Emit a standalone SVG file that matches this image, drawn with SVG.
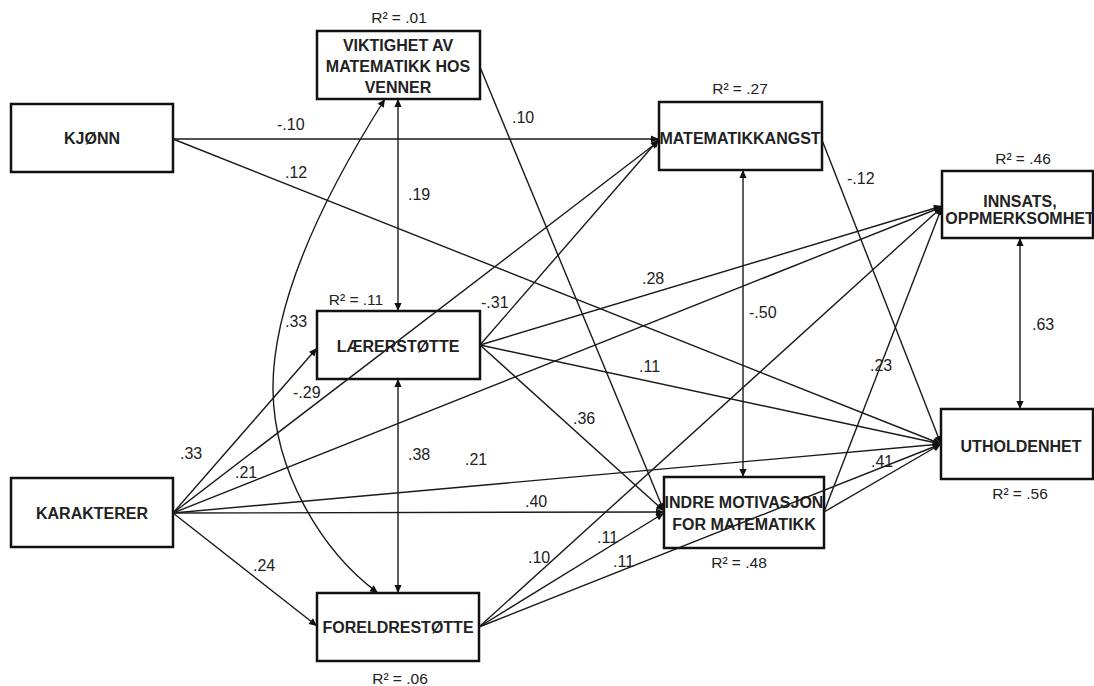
<svg xmlns="http://www.w3.org/2000/svg" width="1094" height="686" viewBox="0 0 1094 686">
  <style>
    .box { fill: #fff; stroke: #111; stroke-width: 2.5; }
    .name { font-family: "Liberation Sans", Arial, sans-serif; font-size: 16px; font-weight: bold; fill: #222; text-anchor: middle; }
    .coef { font-family: "Liberation Sans", Arial, sans-serif; font-size: 16px; fill: #222; }
    .r2 { font-family: "Liberation Sans", Arial, sans-serif; font-size: 15.5px; fill: #222; text-anchor: middle; }
    .edge { fill: none; stroke: #1a1a1a; stroke-width: 1.4; marker-end: url(#ah); }
    .both { marker-start: url(#ah); }
  </style>
  <defs>
    <marker id="ah" viewBox="0 0 10 10" refX="10" refY="5" markerWidth="9" markerHeight="8" markerUnits="userSpaceOnUse" orient="auto-start-reverse">
      <path d="M0,0.5 L10,5 L0,9.5 z" fill="#111"/>
    </marker>
  </defs>
  <rect width="1094" height="686" fill="#fff"/>

  <g id="node-kjonn">
    <rect class="box" x="11" y="104" width="162" height="68"/>
    <text class="name" x="92" y="144">KJØNN</text>
  </g>
  <g id="node-karakterer">
    <rect class="box" x="11" y="478" width="162" height="69"/>
    <text class="name" x="92" y="519">KARAKTERER</text>
  </g>
  <g id="node-viktighet">
    <rect class="box" x="317" y="31" width="163" height="68"/>
    <text class="name" x="398" y="51">VIKTIGHET AV</text>
    <text class="name" x="398" y="72">MATEMATIKK HOS</text>
    <text class="name" x="398" y="93">VENNER</text>
    <text class="r2" x="399" y="23">R² = .01</text>
  </g>
  <g id="node-laererstotte">
    <rect class="box" x="317" y="311" width="163" height="68"/>
    <text class="name" x="398" y="352">LÆRERSTØTTE</text>
    <text class="r2" x="356" y="305">R² = .11</text>
  </g>
  <g id="node-foreldrestotte">
    <rect class="box" x="317" y="593" width="162" height="68"/>
    <text class="name" x="398" y="633">FORELDRESTØTTE</text>
    <text class="r2" x="400" y="684">R² = .06</text>
  </g>
  <g id="node-matematikkangst">
    <rect class="box" x="659" y="102" width="163" height="68"/>
    <text class="name" x="740" y="144">MATEMATIKKANGST</text>
    <text class="r2" x="740" y="94">R² = .27</text>
  </g>
  <g id="node-indre-motivasjon">
    <rect class="box" x="664" y="477" width="160" height="71"/>
    <text class="name" x="744" y="508">INDRE MOTIVASJON</text>
    <text class="name" x="744" y="530">FOR MATEMATIKK</text>
    <text class="r2" x="739" y="568">R² = .48</text>
  </g>
  <g id="node-innsats">
    <rect class="box" x="942" y="171" width="151" height="67"/>
    <text class="name" x="1020" y="207">INNSATS,</text>
    <text class="name" x="1020" y="224">OPPMERKSOMHET</text>
    <text class="r2" x="1023" y="164">R² = .46</text>
  </g>
  <g id="node-utholdenhet">
    <rect class="box" x="941" y="409" width="152" height="70"/>
    <text class="name" x="1021" y="452">UTHOLDENHET</text>
    <text class="r2" x="1020" y="499">R² = .56</text>
  </g>

  <g id="connectors">
    <!-- from KJØNN -->
    <line class="edge" x1="173" y1="139" x2="659" y2="139"/>
    <line class="edge" x1="173" y1="139" x2="941" y2="444"/>
    <!-- from VIKTIGHET -->
    <line class="edge" x1="480" y1="67" x2="664" y2="511"/>
    <!-- correlations -->
    <line class="edge both" x1="398" y1="99" x2="398" y2="311"/>
    <line class="edge both" x1="398" y1="379" x2="398" y2="593"/>
    <line class="edge both" x1="743" y1="170" x2="743" y2="477"/>
    <line class="edge both" x1="1020" y1="238" x2="1020" y2="409"/>
    <path class="edge both" d="M385,99 C340,170 272,290 273,390 C274,470 320,550 378,593"/>
    <!-- from MATEMATIKKANGST -->
    <line class="edge" x1="822" y1="140" x2="941" y2="444"/>
    <!-- from LÆRERSTØTTE -->
    <line class="edge" x1="480" y1="345" x2="659" y2="139"/>
    <line class="edge" x1="480" y1="345" x2="942" y2="206"/>
    <line class="edge" x1="480" y1="345" x2="941" y2="444"/>
    <line class="edge" x1="480" y1="345" x2="664" y2="511"/>
    <!-- from KARAKTERER -->
    <line class="edge" x1="173" y1="513" x2="317" y2="348"/>
    <line class="edge" x1="173" y1="513" x2="659" y2="141"/>
    <line class="edge" x1="173" y1="513" x2="942" y2="207"/>
    <line class="edge" x1="173" y1="513" x2="941" y2="444"/>
    <line class="edge" x1="173" y1="513" x2="664" y2="512"/>
    <line class="edge" x1="173" y1="513" x2="317" y2="626"/>
    <!-- from FORELDRESTØTTE -->
    <line class="edge" x1="479" y1="627" x2="942" y2="207"/>
    <line class="edge" x1="479" y1="627" x2="664" y2="513"/>
    <line class="edge" x1="479" y1="627" x2="941" y2="444"/>
    <!-- from INDRE MOTIVASJON -->
    <line class="edge" x1="824" y1="512" x2="942" y2="207"/>
    <line class="edge" x1="824" y1="512" x2="941" y2="444"/>

    <!-- path coefficients -->
    <text class="coef" x="277" y="130">-.10</text>
    <text class="coef" x="285" y="178">.12</text>
    <text class="coef" x="512" y="123">.10</text>
    <text class="coef" x="408" y="200">.19</text>
    <text class="coef" x="285" y="327">.33</text>
    <text class="coef" x="293" y="398">-.29</text>
    <text class="coef" x="180" y="459">.33</text>
    <text class="coef" x="408" y="460">.38</text>
    <text class="coef" x="235" y="478">.21</text>
    <text class="coef" x="253" y="571">.24</text>
    <text class="coef" x="481" y="308">-.31</text>
    <text class="coef" x="642" y="284">.28</text>
    <text class="coef" x="639" y="372">.11</text>
    <text class="coef" x="749" y="318">-.50</text>
    <text class="coef" x="573" y="424">.36</text>
    <text class="coef" x="465" y="465">.21</text>
    <text class="coef" x="525" y="507">.40</text>
    <text class="coef" x="597" y="543">.11</text>
    <text class="coef" x="528" y="563">.10</text>
    <text class="coef" x="613" y="567">.11</text>
    <text class="coef" x="847" y="184">-.12</text>
    <text class="coef" x="870" y="371">.23</text>
    <text class="coef" x="1032" y="330">.63</text>
    <text class="coef" x="871" y="467">.41</text>
  </g>
</svg>
